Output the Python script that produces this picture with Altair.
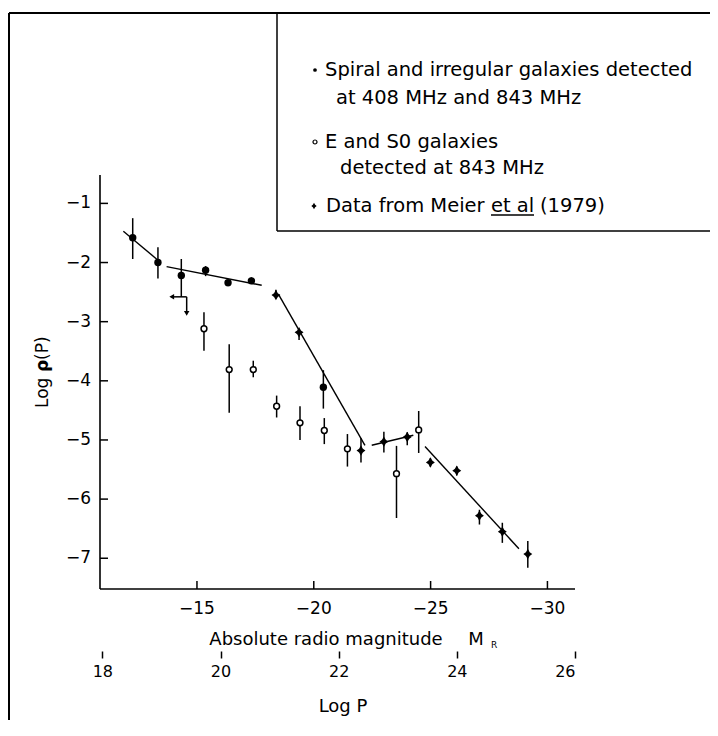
import altair as alt
import pandas as pd

# ---------------- data ----------------
# Spiral and irregular galaxies detected at 408 and 843 MHz (filled dots)
sp_mag = [-12.25, -13.33, -14.33, -15.37, -16.33, -17.33, -20.41]
sp_val = [-1.58, -2.00, -2.22, -2.13, -2.34, -2.31, -4.11]
sp_lo  = [-1.94, -2.27, -2.58, -2.23, -2.40, -2.36, -4.47]
sp_hi  = [-1.25, -1.74, -1.94, -2.06, -2.30, -2.25, -3.82]

# Data from Meier et al (1979)
me_mag = [-18.38, -19.37, -22.02, -23.00, -24.00, -24.99, -26.12, -27.09, -28.07, -29.16]
me_val = [-2.55, -3.18, -5.18, -5.03, -4.95, -5.38, -5.52, -6.28, -6.55, -6.93]
me_lo  = [-2.60, -3.31, -5.38, -5.21, -5.09, -5.45, -5.60, -6.43, -6.74, -7.16]
me_hi  = [-2.46, -3.14, -4.97, -4.86, -4.87, -5.31, -5.45, -6.18, -6.40, -6.71]

# E and S0 galaxies detected at 843 MHz (open circles)
es_mag = [-15.30, -16.38, -17.41, -18.41, -19.41, -20.45, -21.44, -23.54, -24.49]
es_val = [-3.12, -3.81, -3.81, -4.43, -4.71, -4.84, -5.15, -5.57, -4.83]
es_lo  = [-3.49, -4.54, -3.94, -4.62, -5.00, -5.07, -5.45, -6.32, -5.22]
es_hi  = [-2.84, -3.38, -3.66, -4.25, -4.43, -4.63, -4.90, -5.10, -4.51]

# fitted straight segments
fit_seg = ["A", "A", "B", "B", "C", "C", "D", "D", "E", "E"]
fit_mag = [-11.85, -13.33, -13.70, -17.77, -18.49, -22.19, -22.48, -24.26, -24.76, -28.78]
fit_val = [-1.47, -1.96, -2.07, -2.385, -2.54, -5.09, -5.09, -4.92, -5.11, -6.84]

# upper-limit symbol
lim_mag  = [-13.92, -14.56]
lim_mag2 = [-14.56, -14.56]
lim_val  = [-2.58, -2.58]
lim_val2 = [-2.58, -2.83]
arrow_mag   = [-13.92, -14.56]
arrow_val   = [-2.58, -2.86]
arrow_shape = ["triangle-left", "triangle-down"]

mag_ticks = [-15, -20, -25, -30]
mag_labels = ["\u221215", "\u221220", "\u221225", "\u221230"]
val_ticks = [-1, -2, -3, -4, -5, -6, -7]
val_labels = ["\u22121", "\u22122", "\u22123", "\u22124", "\u22125", "\u22126", "\u22127"]
logp_ticks = [18, 20, 22, 24, 26]

legend_lines = [
    "Spiral and irregular galaxies detected",
    "at 408 MHz and 843 MHz",
    "E and S0 galaxies",
    "detected at 843 MHz",
    "Data from Meier ",
    "et al",
    "(1979)",
]

# ---------------- chart ----------------
W, H = 475, 414
FONT = "DejaVu Sans"
xs = alt.Scale(domain=[-10.85, -31.18], nice=False, zero=False)
ys = alt.Scale(domain=[-7.52, -0.52], nice=False, zero=False)
ls = alt.Scale(domain=[17.96, 26.0], nice=False, zero=False)

sp = pd.DataFrame(dict(m=sp_mag, v=sp_val, lo=sp_lo, hi=sp_hi))
me = pd.DataFrame(dict(m=me_mag, v=me_val, lo=me_lo, hi=me_hi))
es = pd.DataFrame(dict(m=es_mag, v=es_val, lo=es_lo, hi=es_hi))
fit = pd.DataFrame(dict(seg=fit_seg, m=fit_mag, v=fit_val))
lim = pd.DataFrame(dict(m=lim_mag, m2=lim_mag2, v=lim_val, v2=lim_val2))
arr = pd.DataFrame(dict(m=arrow_mag, v=arrow_val, s=arrow_shape))
mt = pd.DataFrame(dict(m=mag_ticks, lab=mag_labels))
vt = pd.DataFrame(dict(v=val_ticks, lab=val_labels))
lp = pd.DataFrame(dict(L=logp_ticks))
one = pd.DataFrame(dict(a=[0]))


def X(field="m:Q"):
    return alt.X(field, scale=xs, axis=None)


def Y(field="v:Q"):
    return alt.Y(field, scale=ys, axis=None)


STAR = "M0,-1L0.36,-0.36L0.85,0L0.36,0.36L0,1L-0.36,0.36L-0.85,0L-0.36,-0.36Z"


def hrule(x1, x2, y, w=1.8):
    return alt.Chart(one).mark_rule(color="black", strokeWidth=w).encode(
        x=alt.value(x1), x2=alt.value(x2), y=alt.value(y))


def vrule(x, y1, y2, w=1.8):
    return alt.Chart(one).mark_rule(color="black", strokeWidth=w).encode(
        x=alt.value(x), y=alt.value(y1), y2=alt.value(y2))


def txt(s, x, y, size=19.5, align="left", weight="normal", angle=0):
    return alt.Chart(one).mark_text(align=align, baseline="middle", font=FONT,
                                    fontSize=size, color="black", fontWeight=weight,
                                    angle=angle).encode(
        x=alt.value(x), y=alt.value(y), text=alt.value(s))


# axes (drawn through the scales)
x_domain = hrule(0, W, H, 1.6)
y_domain = vrule(0, 0, H, 1.6)
xtick = alt.Chart(mt).mark_rule(color="black", strokeWidth=1.5).encode(
    x=X(), y=alt.value(H), y2=alt.value(H - 8))
ytick = alt.Chart(vt).mark_rule(color="black", strokeWidth=1.5).encode(
    y=Y(), x=alt.value(0), x2=alt.value(8))
xlab = alt.Chart(mt).mark_text(font=FONT, fontSize=17, color="black",
                               align="center", baseline="middle").encode(
    x=X(), y=alt.value(H + 20), text="lab:N")
ylab = alt.Chart(vt).mark_text(font=FONT, fontSize=17, color="black",
                               align="right", baseline="middle").encode(
    y=Y(), x=alt.value(-9), text="lab:N")

lines = alt.Chart(fit).mark_line(color="black", strokeWidth=1.4).encode(
    x=X(), y=Y(), detail="seg:N")


def errs(df):
    return alt.Chart(df).mark_rule(color="black", strokeWidth=1.5).encode(
        x=X(), y=Y("lo:Q"), y2="hi:Q")


limits = alt.Chart(lim).mark_rule(color="black", strokeWidth=1.5).encode(
    x=X(), x2="m2:Q", y=Y(), y2="v2:Q")
arrows = alt.Chart(arr).mark_point(filled=True, color="black", size=30, opacity=1).encode(
    x=X(), y=Y(), shape=alt.Shape("s:N", scale=None))

sp_pts = alt.Chart(sp).mark_point(filled=True, color="black", size=55, opacity=1).encode(
    x=X(), y=Y())
me_pts = alt.Chart(me).mark_point(filled=True, color="black", size=110, opacity=1,
                                  shape=STAR).encode(x=X(), y=Y())
es_pts = alt.Chart(es).mark_point(filled=True, fill="white", stroke="black",
                                  strokeWidth=1.5, size=34, opacity=1).encode(x=X(), y=Y())

# ---- decorations: frame, legend box, titles ----
frame = [
    hrule(-91, 610, -162, 2),
    vrule(-91, -162, 545, 2),
    vrule(177, -162, 56, 1.5),
    hrule(177, 610, 56, 1.5),
]

LY = [-105, -77, -33, -7, 31]
legend = [
    txt(legend_lines[0], 225, LY[0]),
    txt(legend_lines[1], 236, LY[1]),
    txt(legend_lines[2], 225, LY[2]),
    txt(legend_lines[3], 240, LY[3]),
    txt(legend_lines[4], 226, LY[4]),
    txt(legend_lines[5], 391, LY[4]),
    txt(legend_lines[6], 440, LY[4]),
    hrule(391, 434, LY[4] + 9, 1.3),
    alt.Chart(one).mark_point(filled=True, color="black", size=14, opacity=1).encode(
        x=alt.value(215), y=alt.value(LY[0])),
    alt.Chart(one).mark_point(filled=True, fill="white", stroke="black", strokeWidth=1.2,
                              size=16, opacity=1).encode(x=alt.value(215), y=alt.value(LY[2])),
    alt.Chart(one).mark_point(filled=True, color="black", size=40, opacity=1,
                              shape=STAR).encode(x=alt.value(214), y=alt.value(LY[4])),
]

titles = [
    txt("Absolute radio magnitude", 226, 465, size=18, align="center"),
    txt("M", 376, 465, size=18, align="center"),
    txt("R", 394, 470, size=9, align="center"),
    txt("Log P", 243, 532, size=18, align="center"),
    txt("Log ", -57, 233, size=17, angle=270),
    txt("\u03c1", -57, 197, size=17, weight="bold", angle=270),
    txt("(P)", -57, 185, size=17, angle=270),
]

main = alt.layer(
    x_domain, y_domain, xtick, ytick, xlab, ylab, lines,
    errs(sp), errs(me), errs(es), limits, arrows,
    sp_pts, me_pts, es_pts,
    *frame, *legend, *titles,
)

logp_axis = alt.Axis(values=logp_ticks, format="d", orient="bottom", offset=62,
                     domain=False, ticks=True, tickSize=7, tickWidth=1.5,
                     tickColor="black", labelFont=FONT, labelFontSize=16,
                     labelColor="black", labelPadding=5, grid=False, title=None)
logp = alt.Chart(lp).mark_point(opacity=0).encode(
    x=alt.X("L:Q", scale=ls, axis=logp_axis), y=alt.value(0))

chart = alt.layer(main, logp).resolve_scale(x="independent").properties(
    width=W, height=H, background="white",
    padding={"left": 92, "top": 167, "right": 135, "bottom": 131},
    autosize=alt.AutoSizeParams(type="none"),
).configure_view(stroke=None)

chart.save("out.html", embed_options={"renderer": "svg", "actions": False})
